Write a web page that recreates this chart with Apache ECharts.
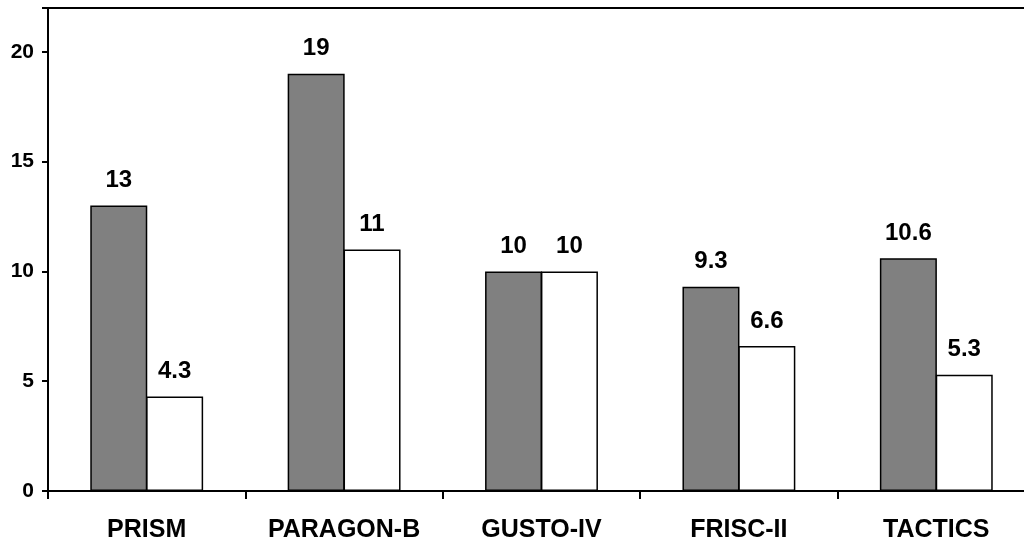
<!DOCTYPE html>
<html>
<head>
<meta charset="utf-8">
<script src="https://cdn.jsdelivr.net/npm/echarts@6/dist/echarts.min.js"></script>
<style>html,body{margin:0;padding:0;background:#fff;overflow:hidden}#c{width:1045px;height:543px}</style>
</head>
<body>
<div id="c"></div>
<script>
const categories = ['PRISM', 'PARAGON-B', 'GUSTO-IV', 'FRISC-II', 'TACTICS'];
const seriesA = [13, 19, 10, 9.3, 10.6];
const seriesB = [4.3, 11, 10, 6.6, 5.3];
const yTicks = [0, 5, 10, 15, 20];

const chart = echarts.init(document.getElementById('c'), null, {renderer: 'canvas'});
const font = 'Arial, "Liberation Sans", sans-serif';
const labelStyle = {
  show: true, position: 'top', distance: 13,
  color: '#000', fontFamily: font, fontWeight: 'bold', fontSize: 24,
  formatter: p => String(p.value)
};
chart.setOption({
  animation: false,
  backgroundColor: '#fff',
  grid: {left: 48, top: 8, width: 987, height: 486, show: true, borderColor: '#000', borderWidth: 2, backgroundColor: 'transparent'},
  xAxis: {
    type: 'category', data: categories,
    axisLine: {lineStyle: {color: '#000', width: 2}},
    axisTick: {show: true, interval: 0, alignWithLabel: false, length: 8, lineStyle: {color: '#000', width: 2}},
    axisLabel: {interval: 0, hideOverlap: false, color: '#000', fontFamily: font, fontWeight: 'bold', fontSize: 25, margin: 27},
    splitLine: {show: false}
  },
  yAxis: {
    type: 'value', min: 0, max: 22, interval: 5,
    axisLine: {show: true, lineStyle: {color: '#000', width: 2}},
    axisTick: {show: true, length: 6, lineStyle: {color: '#000', width: 2}},
    axisLabel: {color: '#000', fontFamily: font, fontWeight: 'bold', fontSize: 21, margin: 14,
      formatter: v => yTicks.includes(v) ? String(v) : ''},
    splitLine: {show: false}
  },
  series: [
    {type: 'bar', data: seriesA, barWidth: 57, barGap: '-2%',
     itemStyle: {color: '#808080', borderColor: '#000', borderWidth: 1.5},
     label: labelStyle},
    {type: 'bar', data: seriesB, barWidth: 57, barGap: '-2%',
     itemStyle: {color: '#ffffff', borderColor: '#000', borderWidth: 1.5},
     label: labelStyle}
  ]
});
</script>
</body>
</html>
